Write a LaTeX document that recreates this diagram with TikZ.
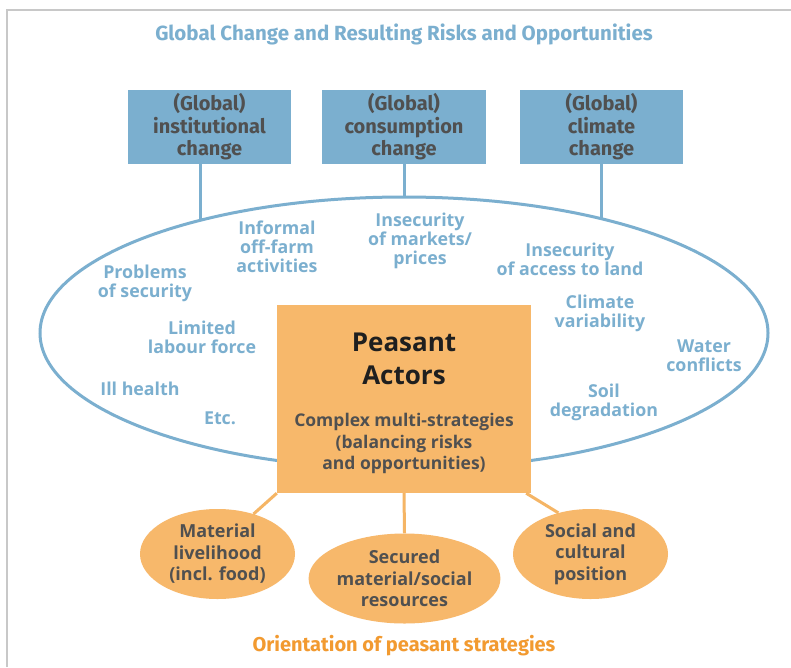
\documentclass[tikz,border=0pt]{standalone}
\usepackage{fontspec}
\setmainfont{Open Sans}
\newfontfamily\condf{Fira Sans}
\usetikzlibrary{shapes.geometric}
\definecolor{skyb}{HTML}{7BAFCF}
\definecolor{peach}{HTML}{F7B86B}
\definecolor{peachln}{HTML}{F5B565}
\definecolor{darktxt}{HTML}{505050}
\definecolor{captor}{HTML}{F29A30}
\definecolor{framegray}{HTML}{C8C8C8}
\begin{document}
\begin{tikzpicture}[x=1pt,y=-1pt,
  gbox/.style={fill=skyb, minimum width=163pt, minimum height=74pt, inner sep=0pt, font=\condf\bfseries\fontsize{20}{22.5}\selectfont, text=darktxt, align=center},
  risk/.style={font=\bfseries\fontsize{17.8}{19}\selectfont, text=skyb, align=center, inner sep=0pt},
  goal/.style={ellipse, fill=peach, minimum width=155pt, minimum height=90pt, inner sep=0pt, font=\bfseries\fontsize{18}{21.5}\selectfont, text=darktxt, align=center},
  bline/.style={draw=skyb, line width=3pt},
  oline/.style={draw=peachln, line width=3pt},
]
\useasboundingbox (0,0) rectangle (791,667);
\fill[white] (0,0) rectangle (791,667);
% frame
\coordinate (fa) at (7,667);
\coordinate (fb) at (7,10);
\coordinate (fc) at (791,10);
\draw[framegray, line width=1.5pt] (fa) -- (fb) -- (fc);

\node[font=\condf\bfseries\fontsize{20.5}{22}\selectfont, text=skyb] (title) at (404,34) {Global Change and Resulting Risks and Opportunities};

\node[gbox] (b1) at (209.5,127) {(Global)\\institutional\\change};
\node[gbox, minimum width=164pt] (b2) at (404,127) {(Global)\\consumption\\change};
\node[gbox] (b3) at (601.5,127) {(Global)\\climate\\change};

\node[ellipse, draw=skyb, line width=3pt, minimum width=728pt, minimum height=272pt, inner sep=0pt, outer sep=0pt] (ring) at (404,333) {};

\draw[bline] (ring.north) -- (b2.south);
\draw[bline] (ring.151.3) -- (ring.151.3 |- b1.south);
\draw[bline] (ring.30.3) -- (ring.30.3 |- b3.south);

\node[risk] (r1) at (277,247) {Informal\\off-farm\\activities};
\node[risk] (r2) at (420,241) {Insecurity\\of markets/\\prices};
\node[risk] (r3) at (570,259.5) {Insecurity\\of access to land};
\node[risk] (r4) at (145,283.5) {Problems\\of security};
\node[risk] (r5) at (202,337) {Limited\\labour force};
\node[risk] (r6) at (140,389) {Ill health};
\node[risk] (r7) at (220,418) {Etc.};
\node[risk] (r8) at (600,313) {Climate\\variability};
\node[risk] (r9) at (704,355.5) {Water\\conflicts};
\node[risk] (r10) at (604,402) {Soil\\degradation};

\node[fill=peach, minimum width=254pt, minimum height=188pt, inner sep=0pt] (pa) at (404,399) {};
\node[font=\bfseries\fontsize{26}{33}\selectfont, text=black!88, align=center, inner sep=0pt] (pt) at (404,358.5) {Peasant\\Actors};
\node[font=\bfseries\fontsize{17.5}{21.5}\selectfont, text=darktxt, align=center, inner sep=0pt] (ps) at (404,443.5) {Complex multi-strategies\\(balancing risks\\and opportunities)};

\node[goal] (m1) at (217.5,554) {Material\\livelihood\\(incl. food)};
\node[goal] (m2) at (404.5,578.5) {Secured\\material/social\\resources};
\node[goal] (m3) at (590.5,554) {Social and\\cultural\\position};

\draw[oline] (pa.south west) -- (m1.48.4);
\draw[oline] (pa.south) -- (m2.north);
\draw[oline] ([xshift=-5pt]pa.south east) -- (m3.128.4);

\node[font=\condf\bfseries\fontsize{20}{22}\selectfont, text=captor] (cap) at (404,646) {Orientation of peasant strategies};
\end{tikzpicture}
\end{document}
